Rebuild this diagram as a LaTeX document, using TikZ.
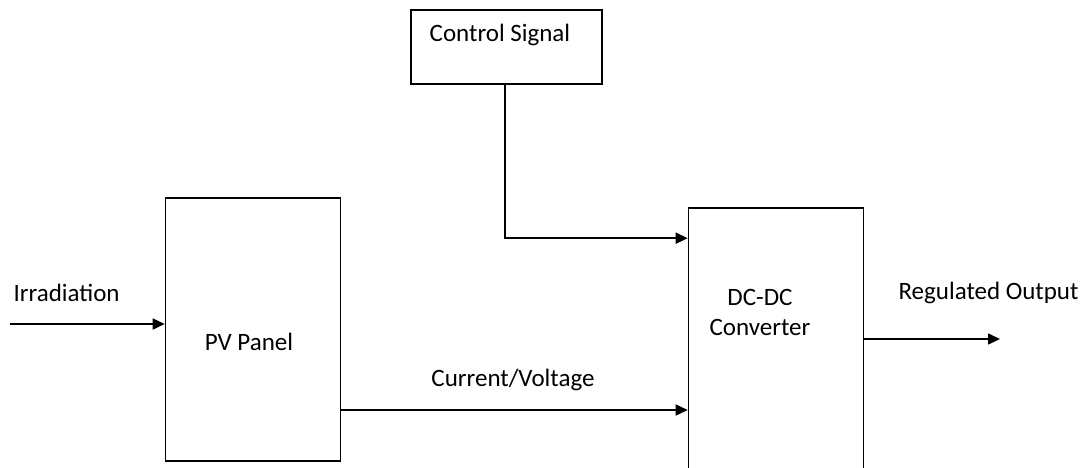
\documentclass[tikz,border=0pt]{standalone}
\usepackage{fontspec}
\setmainfont{Carlito}
\usetikzlibrary{arrows.meta,positioning,calc}

\begin{document}
\begin{tikzpicture}[x=1pt,y=-1pt,every node/.style={font=\fontsize{25}{30}\selectfont},
  block/.style={draw,line width=1.6pt,inner sep=0pt},
  conn/.style={line width=1.6pt,-{Triangle[length=12pt,width=11pt]}}]
  \useasboundingbox[fill=white] (0,0) rectangle (1085,468);
  % boxes
  \node[block,minimum width=191,minimum height=74] (ctrl) at (506.5,47) {};
  \node[block,minimum width=175,minimum height=263] (pv) at (253,329.5) {};
  \node[block,minimum width=175,minimum height=270] (dc) at (776,343) {};
  % texts
  \node (ctrltxt) at (500,35) {Control Signal};
  \node (pvtxt) at (249,342) {PV Panel};
  \node[align=center] (dctxt) at (760,312) {DC-DC\\Converter};
  \node[anchor=west] (irr) at (10,293) {Irradiation};
  \node (cv) at (513,380) {Current/Voltage};
  \node[anchor=west] (reg) at (895,293) {Regulated Output};
  % connectors
  \coordinate (src) at (10,324);
  \coordinate (cvy) at (0,410);
  \coordinate (out) at (1000,339);
  \draw[conn] (src) -- (src -| pv.west);
  \draw[conn] (ctrl.south -| 505,0) |- ($(dc.north west)+(0,31)$);
  \draw[conn] (cvy -| pv.east) -- (cvy -| dc.west);
  \draw[conn] (out -| dc.east) -- (out);
\end{tikzpicture}
\end{document}
